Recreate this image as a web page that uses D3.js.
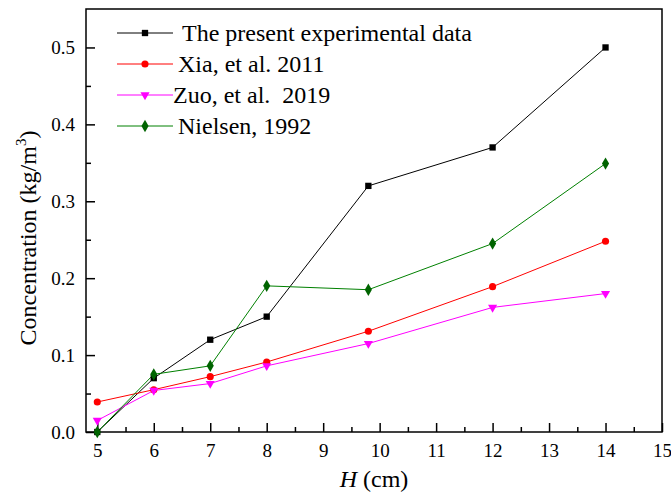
<!DOCTYPE html>
<html>
<head>
<meta charset="utf-8">
<script src="https://cdn.jsdelivr.net/npm/d3@7"></script>
<style>
  body { margin: 0; background: #fff; }
  svg text { font-family: "Liberation Serif", "Times New Roman", "DejaVu Serif", serif; }
</style>
</head>
<body>
<div id="chart"></div>
<script>
const hValues = [5, 6, 7, 8, 9.8, 12, 14];
const presentData = [0, 0.07, 0.12, 0.15, 0.32, 0.37, 0.5];
const xiaData = [0.039, 0.055, 0.072, 0.091, 0.131, 0.189, 0.248];
const zuoData = [0.015, 0.054, 0.063, 0.086, 0.115, 0.162, 0.18];
const nielsenData = [0, 0.075, 0.086, 0.19, 0.185, 0.245, 0.349];
const seriesNames = ["The present experimental data", "Xia, et al. 2011", "Zuo, et al.  2019", "Nielsen, 1992"];
const xTicks = [5, 6, 7, 8, 9, 10, 11, 12, 13, 14, 15];
const yTicks = [0, 0.1, 0.2, 0.3, 0.4, 0.5];

const series = [
  { name: seriesNames[0], values: presentData, color: "#000000", fill: "#000000", symbol: d3.symbolSquare, size: 40 },
  { name: seriesNames[1], values: xiaData, color: "#ff0000", fill: "#ff0000", symbol: d3.symbolCircle, size: 40 },
  { name: seriesNames[2], values: zuoData, color: "#ff00ff", fill: "#ff00ff", symbol: d3.symbolTriangle, size: 36, rotate: 180 },
  { name: seriesNames[3], values: nielsenData, color: "#008000", fill: "#006400", symbol: d3.symbolDiamond, size: 44 },
];

const width = 671, height = 494;
const margin = { top: 9, right: 9, bottom: 62, left: 86 };

const svg = d3.select("#chart").append("svg")
  .attr("width", width)
  .attr("height", height);

const x = d3.scaleLinear().domain([4.8, 15]).range([margin.left, width - margin.right]);
const y = d3.scaleLinear().domain([0, 0.55]).range([height - margin.bottom, margin.top]);

const x0 = margin.left, x1 = width - margin.right;
const y0 = height - margin.bottom, y1 = margin.top;

// minor ticks (inward)
const xMinor = d3.range(5.5, 15, 1);
const yMinor = d3.range(0.05, 0.55, 0.1);

svg.append("g")
  .attr("transform", `translate(0,${y0})`)
  .call(d3.axisBottom(x).tickValues(xMinor).tickSize(-5).tickFormat(""))
  .call((g) => g.select(".domain").remove())
  .call((g) => g.selectAll("line").attr("stroke-width", 1.5));

svg.append("g")
  .attr("transform", `translate(${x0},0)`)
  .call(d3.axisLeft(y).tickValues(yMinor).tickSize(-5).tickFormat(""))
  .call((g) => g.select(".domain").remove())
  .call((g) => g.selectAll("line").attr("stroke-width", 1.5));

// major ticks
svg.append("g")
  .attr("transform", `translate(0,${y0})`)
  .call(d3.axisBottom(x).tickValues(xTicks).tickSize(-9).tickPadding(12).tickFormat(d3.format("d")))
  .call((g) => g.select(".domain").remove())
  .call((g) => g.selectAll("line").attr("stroke-width", 1.5))
  .call((g) => g.selectAll("text").attr("font-size", 19).attr("fill", "#000").attr("font-family", null));

svg.append("g")
  .attr("transform", `translate(${x0},0)`)
  .call(d3.axisLeft(y).tickValues(yTicks).tickSize(-9).tickPadding(11).tickFormat(d3.format(".1f")))
  .call((g) => g.select(".domain").remove())
  .call((g) => g.selectAll("line").attr("stroke-width", 1.5))
  .call((g) => g.selectAll("text").attr("font-size", 19).attr("fill", "#000").attr("font-family", null));

// frame
svg.append("rect")
  .attr("x", x0).attr("y", y1)
  .attr("width", x1 - x0).attr("height", y0 - y1)
  .attr("fill", "none")
  .attr("stroke", "#000")
  .attr("stroke-width", 1.5);

// lines and markers
const line = d3.line()
  .x((d, i) => x(hValues[i]))
  .y((d) => y(d));

const plot = svg.append("g");

series.forEach((s) => {
  plot.append("path")
    .datum(s.values)
    .attr("fill", "none")
    .attr("stroke", s.color)
    .attr("stroke-width", 1)
    .attr("d", line);
});

series.forEach((s) => {
  plot.append("g")
    .selectAll("path")
    .data(s.values)
    .join("path")
    .attr("d", d3.symbol(s.symbol, s.size))
    .attr("fill", s.fill)
    .attr("transform", (d, i) => `translate(${x(hValues[i])},${y(d)})` + (s.rotate ? ` rotate(${s.rotate})` : ""));
});

// legend
const legend = svg.append("g").attr("transform", "translate(117,33)");
const textX = [65, 61, 56, 61];
series.forEach((s, i) => {
  const row = legend.append("g").attr("transform", `translate(0,${i * 31})`);
  row.append("line")
    .attr("x1", 0).attr("x2", 56)
    .attr("stroke", s.color).attr("stroke-width", 1);
  row.append("path")
    .attr("d", d3.symbol(s.symbol, s.size))
    .attr("fill", s.fill)
    .attr("transform", `translate(28,0)` + (s.rotate ? ` rotate(${s.rotate})` : ""));
  row.append("text")
    .attr("x", textX[i])
    .attr("dy", "0.33em")
    .attr("font-size", 24)
    .attr("xml:space", "preserve")
    .style("white-space", "pre")
    .text(s.name);
});

// axis titles
const xTitle = svg.append("text")
  .attr("x", (x0 + x1) / 2)
  .attr("y", 487)
  .attr("text-anchor", "middle")
  .attr("font-size", 24);
xTitle.append("tspan").attr("font-style", "italic").text("H");
xTitle.append("tspan").text(" (cm)");

const yTitle = svg.append("text")
  .attr("transform", `translate(36,238) rotate(-90)`)
  .attr("text-anchor", "middle")
  .attr("font-size", 24);
yTitle.append("tspan").text("Concentration (kg/m");
yTitle.append("tspan").attr("font-size", 15).attr("dy", -10).text("3");
yTitle.append("tspan").attr("dy", 10).text(")");
</script>
</body>
</html>
